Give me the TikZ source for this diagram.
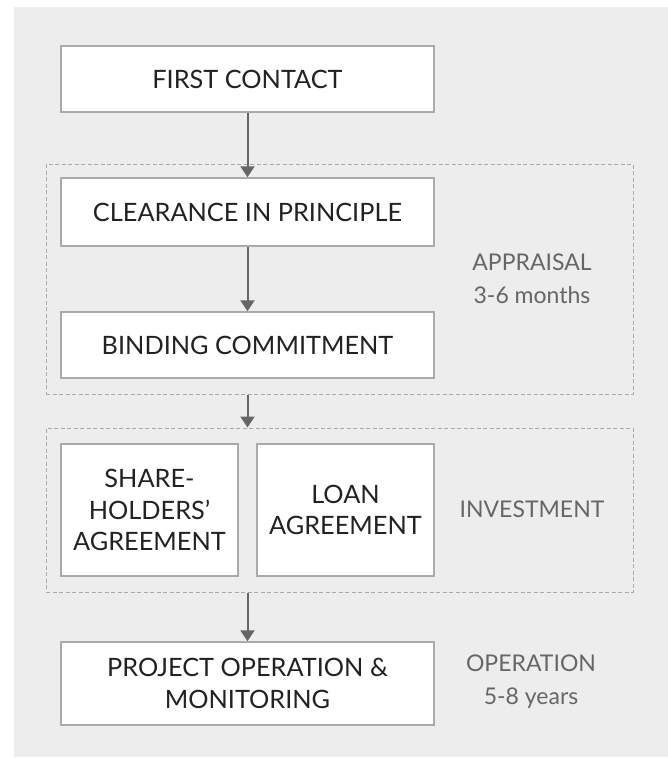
\documentclass[tikz,border=0pt]{standalone}
\usepackage{fontspec}
\setmainfont{Lato}
\usetikzlibrary{arrows.meta}
\definecolor{bggray}{HTML}{EDEDED}
\definecolor{boxline}{HTML}{AAAAAA}
\definecolor{arrowc}{HTML}{666666}
\definecolor{txt}{HTML}{222222}
\definecolor{side}{HTML}{666666}
\tikzset{
  stepbox/.style={draw=boxline, line width=1.5pt, fill=white, text=txt, align=center,
    inner sep=0pt, font=\fontsize{25.3}{31.5}\selectfont},
  phase/.style={draw=boxline, line width=1pt, dash pattern=on 4pt off 2.5pt, inner sep=0pt},
  sidelabel/.style={text=side, align=center, font=\fontsize{23}{33}\selectfont},
  flow/.style={draw=arrowc, line width=2pt, -{Triangle[width=14pt,length=11pt]}}
}
\begin{document}
\begin{tikzpicture}[x=1pt,y=-1pt]
\useasboundingbox (0,0) rectangle (668,758);
\fill[bggray] (14,7) rectangle (668,757);
% dashed phase frames
\node[phase, minimum width=587pt, minimum height=230pt] (d1) at (339.5,279) {};
\node[phase, minimum width=587pt, minimum height=164pt] (d2) at (339.5,510) {};
% boxes
\node[stepbox, minimum width=373pt, minimum height=66pt] (first) at (247.5,79) {FIRST CONTACT};
\node[stepbox, minimum width=373pt, minimum height=68pt] (clear) at (247.5,212) {CLEARANCE IN PRINCIPLE};
\node[stepbox, minimum width=373pt, minimum height=66pt] (bind) at (247.5,345) {BINDING COMMITMENT};
\node[stepbox, minimum width=177pt, minimum height=132pt] (share) at (149.5,510) {SHARE-\\HOLDERS’\\AGREEMENT};
\node[stepbox, minimum width=177pt, minimum height=132pt] (loan) at (345.5,510) {LOAN\\AGREEMENT};
\node[stepbox, minimum width=373pt, minimum height=83pt] (proj) at (247.5,683.5) {PROJECT OPERATION \&\\MONITORING};
% side labels
\node[sidelabel] (appr) at (532,279) {APPRAISAL\\3-6 months};
\node[sidelabel] (inv) at (532,509) {INVESTMENT};
\node[sidelabel] (oper) at (531,682) {OPERATION\\5-8 years};
% connectors
\draw[flow] (first.south) -- (clear.north);
\draw[flow] (clear.south) -- (bind.north);
\draw[flow] (first |- d1.south) -- (first |- d2.north);
\draw[flow] (first |- d2.south) -- (proj.north);
\end{tikzpicture}
\end{document}
